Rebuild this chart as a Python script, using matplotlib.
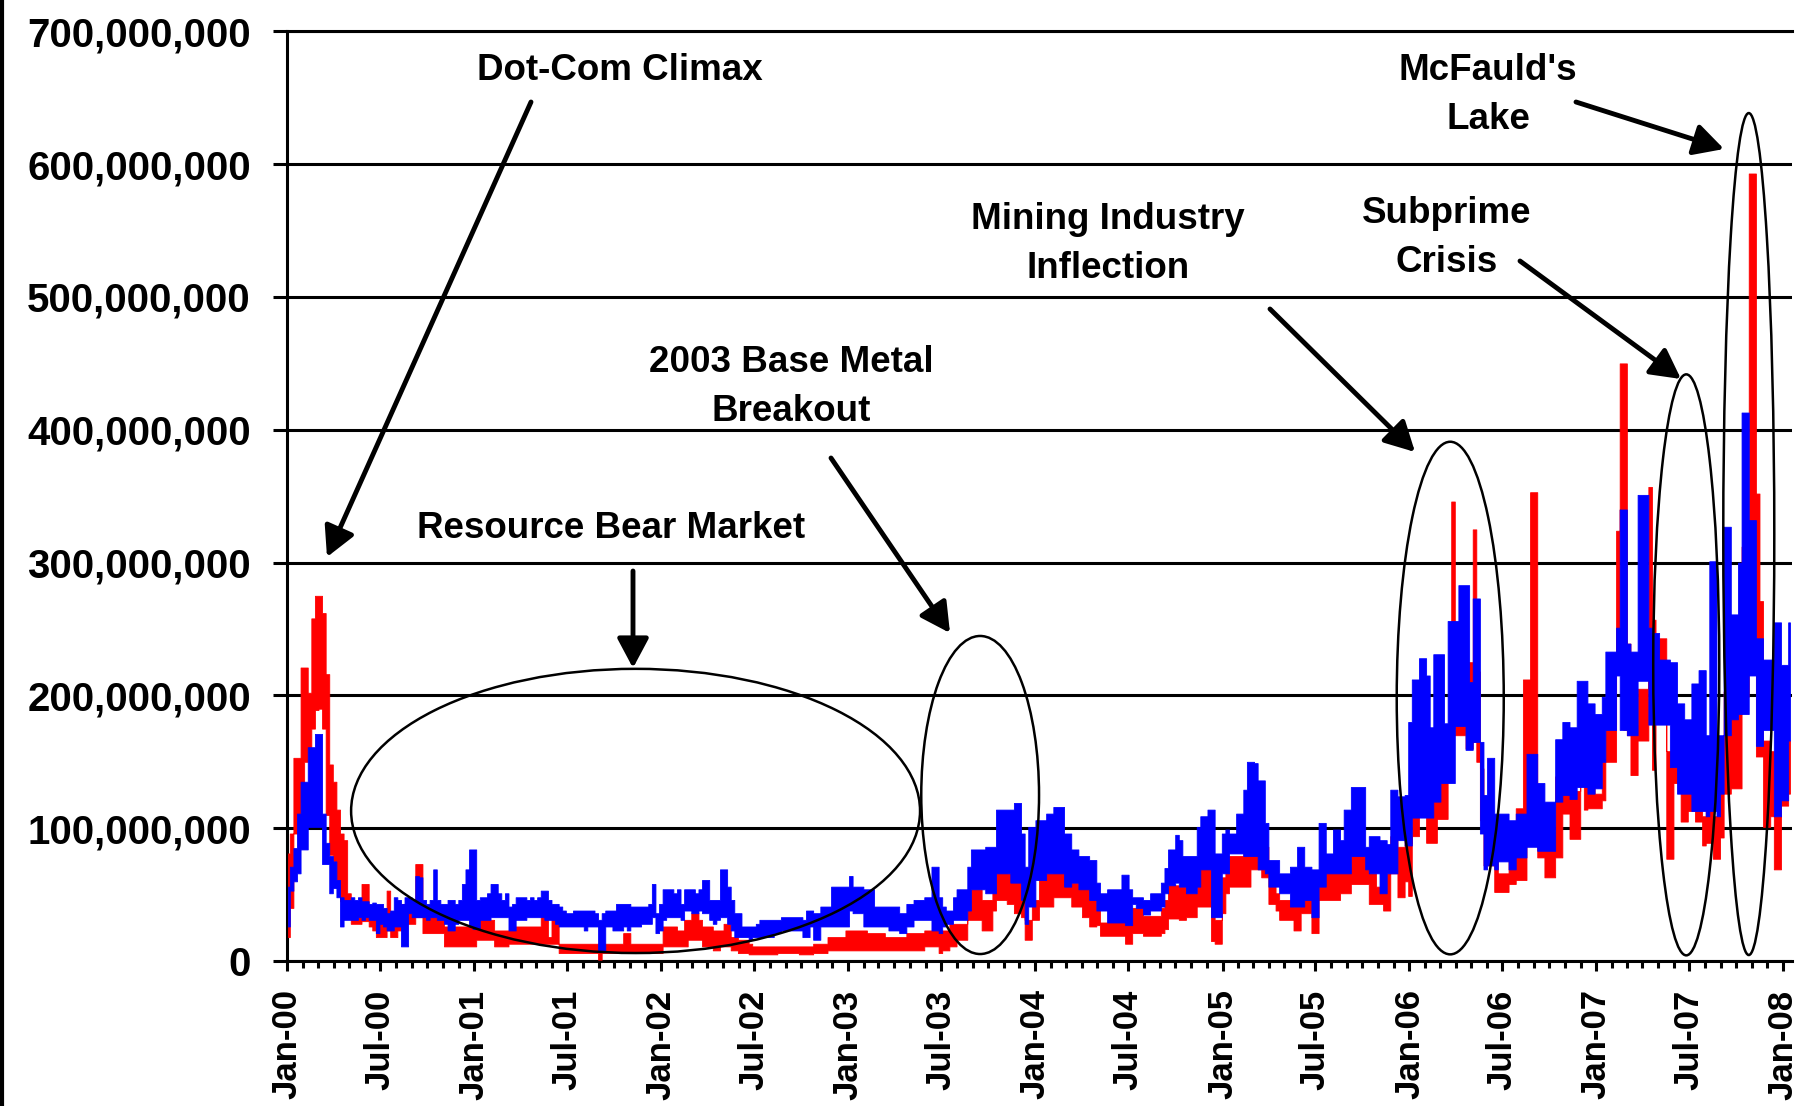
import matplotlib
matplotlib.use("Agg")
import matplotlib.pyplot as plt
import matplotlib.dates as mdates
from matplotlib.patches import Ellipse
from matplotlib.lines import Line2D
from matplotlib.ticker import FuncFormatter
import pandas as pd

plt.rcParams['font.family'] = ['Liberation Sans', 'DejaVu Sans']
plt.rcParams['font.weight'] = 'bold'

# weekly series, values in millions (upper / lower envelope of each week)
first_week = '2000-01-03'

blue_hi = [
    56, 71, 85, 111, 135, 135, 161, 161, 171, 171,
    111, 89, 79, 75, 61, 48, 46, 46, 48, 46,
    48, 45, 45, 43, 44, 43, 43, 40, 36, 38,
    48, 46, 43, 48, 48, 46, 64, 63, 46, 43,
    46, 69, 46, 43, 43, 46, 46, 43, 46, 58,
    69, 84, 84, 46, 48, 48, 51, 58, 58, 51,
    46, 51, 41, 43, 48, 48, 48, 46, 48, 46,
    48, 53, 53, 46, 43, 43, 41, 38, 36, 36,
    38, 38, 38, 38, 38, 38, 36, 31, 36, 38,
    38, 38, 43, 43, 43, 43, 41, 41, 41, 41,
    41, 43, 58, 36, 43, 54, 54, 54, 51, 54,
    43, 54, 54, 54, 51, 54, 61, 61, 46, 46,
    46, 69, 69, 56, 46, 36, 36, 26, 26, 26,
    26, 28, 31, 31, 31, 31, 31, 31, 33, 33,
    33, 33, 33, 33, 31, 38, 38, 36, 36, 41,
    41, 41, 56, 56, 56, 56, 56, 64, 56, 56,
    56, 54, 54, 54, 41, 41, 41, 41, 41, 41,
    41, 36, 36, 43, 43, 46, 46, 46, 48, 48,
    71, 71, 48, 41, 38, 38, 48, 54, 54, 54,
    71, 84, 84, 84, 84, 86, 86, 86, 114, 114,
    114, 114, 114, 119, 119, 96, 71, 101, 101, 106,
    106, 106, 111, 111, 116, 116, 116, 96, 96, 84,
    84, 79, 79, 79, 76, 76, 59, 51, 51, 54,
    54, 54, 54, 65, 65, 54, 48, 48, 48, 46,
    46, 51, 51, 51, 59, 70, 84, 84, 95, 91,
    79, 79, 79, 79, 101, 109, 109, 114, 114, 81,
    81, 96, 99, 96, 96, 111, 111, 129, 150, 150,
    149, 136, 136, 104, 76, 76, 76, 66, 66, 66,
    71, 71, 86, 86, 71, 71, 69, 69, 104, 104,
    81, 81, 99, 99, 91, 114, 114, 131, 131, 131,
    131, 86, 94, 94, 94, 91, 91, 88, 129, 129,
    124, 124, 125, 180, 212, 212, 228, 228, 215, 176,
    231, 231, 231, 179, 256, 256, 256, 283, 283, 283,
    210, 273, 273, 165, 125, 153, 153, 111, 111, 111,
    111, 106, 106, 111, 111, 111, 156, 156, 156, 134,
    134, 120, 120, 120, 167, 167, 180, 180, 176, 176,
    211, 211, 211, 194, 194, 186, 186, 199, 233, 233,
    233, 251, 340, 340, 239, 233, 233, 351, 351, 351,
    251, 247, 247, 227, 227, 227, 225, 225, 194, 194,
    182, 182, 209, 209, 219, 219, 170, 301, 301, 170,
    170, 327, 327, 261, 261, 300, 413, 413, 332, 332,
    243, 243, 227, 227, 227, 255, 255, 223, 223, 255,
]

blue_lo = [
    26, 53, 60, 66, 84, 84, 101, 101, 101, 101,
    73, 73, 51, 55, 48, 26, 31, 31, 31, 31,
    33, 31, 33, 31, 31, 21, 28, 26, 23, 23,
    26, 26, 11, 11, 36, 33, 33, 33, 33, 31,
    33, 33, 31, 31, 28, 23, 23, 28, 31, 31,
    31, 26, 24, 24, 31, 31, 31, 33, 33, 33,
    33, 33, 23, 23, 31, 31, 31, 33, 33, 33,
    33, 33, 31, 31, 31, 28, 26, 26, 26, 26,
    26, 26, 26, 23, 26, 26, 26, 8, 8, 26,
    26, 23, 23, 23, 26, 23, 26, 26, 26, 28,
    28, 28, 33, 21, 23, 31, 33, 33, 33, 33,
    31, 38, 38, 36, 36, 38, 36, 36, 31, 28,
    31, 33, 33, 28, 23, 18, 18, 18, 18, 16,
    18, 18, 18, 18, 18, 18, 21, 21, 23, 23,
    23, 23, 23, 23, 18, 18, 26, 16, 16, 26,
    26, 26, 26, 26, 26, 26, 26, 38, 36, 36,
    36, 26, 26, 26, 26, 26, 26, 26, 23, 23,
    23, 21, 21, 26, 26, 31, 31, 31, 31, 31,
    23, 23, 21, 26, 28, 28, 31, 31, 31, 31,
    38, 54, 54, 54, 54, 51, 51, 51, 66, 66,
    66, 66, 59, 59, 59, 46, 28, 41, 41, 61,
    61, 61, 66, 66, 66, 66, 66, 56, 56, 59,
    59, 54, 54, 54, 46, 46, 38, 38, 38, 29,
    29, 29, 29, 29, 27, 27, 43, 40, 40, 35,
    35, 38, 38, 38, 41, 51, 57, 57, 59, 56,
    56, 51, 51, 51, 56, 69, 69, 69, 33, 33,
    33, 66, 66, 81, 81, 81, 81, 79, 79, 79,
    79, 69, 69, 66, 56, 56, 56, 51, 51, 51,
    41, 41, 41, 41, 46, 46, 33, 33, 56, 56,
    66, 66, 66, 66, 66, 66, 66, 79, 79, 79,
    79, 69, 66, 66, 66, 51, 51, 66, 66, 66,
    91, 91, 87, 87, 108, 108, 108, 108, 108, 108,
    120, 120, 134, 134, 134, 134, 177, 177, 177, 159,
    159, 165, 165, 96, 69, 72, 72, 69, 75, 75,
    75, 69, 69, 78, 78, 78, 86, 86, 86, 83,
    83, 83, 83, 83, 120, 120, 125, 125, 122, 122,
    131, 131, 131, 126, 126, 130, 130, 150, 174, 174,
    174, 215, 174, 174, 170, 170, 170, 211, 211, 211,
    178, 178, 178, 178, 178, 178, 146, 146, 126, 126,
    126, 126, 113, 113, 113, 113, 109, 113, 113, 109,
    126, 170, 170, 182, 182, 186, 186, 186, 215, 215,
    162, 162, 174, 174, 174, 109, 109, 121, 121, 166,
]

red_hi = [
    81, 96, 153, 153, 221, 221, 202, 258, 275, 275,
    262, 216, 148, 135, 114, 96, 91, 51, 41, 41,
    41, 58, 58, 41, 36, 36, 36, 36, 53, 31,
    31, 43, 43, 38, 38, 38, 73, 73, 36, 36,
    36, 36, 33, 33, 26, 26, 26, 26, 26, 26,
    26, 26, 26, 26, 31, 31, 31, 31, 23, 23,
    23, 23, 23, 26, 26, 26, 26, 26, 26, 26,
    26, 38, 38, 18, 41, 41, 13, 13, 13, 13,
    13, 13, 13, 13, 13, 13, 13, 13, 13, 13,
    13, 13, 13, 13, 21, 21, 13, 13, 13, 13,
    13, 13, 13, 13, 13, 26, 26, 26, 26, 23,
    23, 31, 31, 36, 36, 31, 26, 26, 26, 23,
    23, 23, 28, 28, 18, 18, 16, 16, 16, 13,
    11, 11, 11, 11, 11, 11, 11, 11, 11, 11,
    11, 11, 11, 11, 11, 11, 11, 13, 13, 13,
    13, 18, 18, 18, 18, 18, 23, 23, 23, 23,
    23, 23, 21, 21, 21, 21, 21, 18, 18, 18,
    18, 18, 18, 21, 21, 21, 21, 21, 23, 23,
    23, 23, 23, 23, 23, 28, 28, 28, 28, 28,
    46, 54, 54, 54, 46, 46, 46, 56, 76, 76,
    76, 66, 66, 66, 66, 51, 31, 31, 46, 46,
    74, 66, 66, 66, 76, 76, 76, 74, 74, 59,
    59, 59, 56, 56, 46, 46, 38, 29, 29, 29,
    29, 29, 29, 34, 34, 34, 40, 40, 40, 34,
    34, 34, 34, 34, 40, 46, 57, 57, 57, 56,
    56, 51, 51, 51, 71, 71, 71, 71, 38, 31,
    31, 63, 79, 79, 79, 79, 79, 81, 81, 99,
    99, 99, 86, 86, 69, 69, 51, 46, 46, 46,
    46, 41, 41, 58, 58, 58, 48, 48, 66, 66,
    69, 69, 69, 69, 71, 71, 71, 86, 86, 86,
    79, 79, 66, 66, 56, 56, 66, 66, 94, 94,
    86, 86, 100, 89, 156, 156, 159, 159, 122, 141,
    141, 142, 142, 142, 166, 346, 254, 180, 180, 225,
    225, 325, 218, 145, 115, 115, 110, 80, 66, 66,
    66, 80, 80, 115, 115, 212, 212, 353, 353, 114,
    114, 97, 97, 97, 139, 139, 131, 131, 128, 128,
    128, 176, 151, 134, 134, 126, 126, 152, 178, 178,
    178, 324, 450, 450, 239, 178, 178, 205, 205, 205,
    357, 257, 243, 243, 243, 158, 158, 158, 158, 154,
    154, 142, 142, 117, 117, 109, 126, 126, 109, 109,
    128, 203, 203, 186, 186, 186, 312, 312, 593, 593,
    352, 271, 166, 166, 158, 109, 109, 166, 166, 166,
]

red_lo = [
    18, 40, 96, 96, 120, 150, 160, 175, 189, 190,
    175, 110, 80, 75, 55, 45, 40, 33, 28, 28,
    28, 30, 30, 26, 23, 18, 18, 18, 23, 18,
    18, 23, 23, 28, 28, 28, 33, 33, 21, 21,
    21, 21, 21, 21, 11, 11, 11, 11, 11, 11,
    11, 11, 11, 16, 16, 16, 16, 16, 11, 11,
    11, 11, 13, 13, 13, 13, 13, 13, 13, 13,
    13, 13, 13, 13, 13, 13, 6, 6, 6, 6,
    6, 6, 6, 6, 6, 6, 6, 1, 6, 6,
    6, 6, 6, 6, 6, 6, 6, 6, 6, 6,
    6, 6, 6, 6, 6, 11, 11, 11, 11, 11,
    11, 11, 16, 16, 16, 16, 11, 11, 11, 8,
    8, 11, 11, 11, 8, 8, 6, 6, 6, 5,
    5, 5, 5, 5, 5, 5, 5, 6, 6, 6,
    6, 6, 6, 5, 5, 5, 5, 6, 6, 6,
    6, 8, 8, 8, 8, 8, 8, 8, 8, 8,
    8, 8, 8, 8, 8, 8, 8, 8, 8, 8,
    8, 8, 8, 8, 8, 8, 8, 8, 11, 11,
    11, 11, 6, 8, 8, 11, 11, 16, 16, 16,
    31, 31, 31, 31, 23, 23, 23, 38, 46, 46,
    46, 43, 43, 36, 36, 33, 16, 16, 31, 31,
    41, 41, 41, 41, 48, 48, 48, 48, 48, 41,
    41, 41, 33, 33, 26, 26, 27, 19, 19, 19,
    19, 19, 19, 19, 13, 13, 21, 21, 21, 19,
    19, 19, 19, 19, 21, 24, 32, 32, 32, 31,
    31, 33, 33, 33, 41, 41, 41, 41, 15, 13,
    13, 36, 51, 56, 56, 56, 56, 56, 56, 69,
    69, 69, 63, 63, 43, 43, 38, 31, 31, 31,
    31, 23, 23, 36, 36, 36, 21, 21, 46, 46,
    46, 46, 46, 46, 51, 51, 51, 58, 58, 58,
    58, 58, 43, 43, 43, 43, 38, 38, 66, 66,
    48, 48, 60, 49, 94, 94, 118, 118, 89, 89,
    89, 107, 107, 107, 135, 175, 170, 170, 170, 160,
    160, 165, 150, 106, 72, 72, 72, 52, 52, 52,
    52, 58, 58, 61, 61, 61, 90, 114, 114, 78,
    78, 63, 63, 63, 78, 78, 111, 111, 92, 92,
    92, 134, 114, 115, 115, 115, 115, 121, 150, 150,
    150, 250, 340, 174, 170, 140, 140, 166, 166, 166,
    250, 144, 186, 186, 186, 77, 77, 134, 134, 105,
    105, 113, 113, 105, 105, 87, 89, 89, 77, 77,
    93, 126, 126, 130, 130, 130, 199, 199, 271, 271,
    154, 154, 101, 101, 109, 69, 69, 117, 117, 126,
]

y_ticks = [0, 100, 200, 300, 400, 500, 600, 700]

notes = ["Dot-Com Climax", "Resource Bear Market", "2003 Base Metal\nBreakout",
         "Mining Industry\nInflection", "Subprime\nCrisis", "McFauld's\nLake"]

n = min(len(blue_hi), len(blue_lo), len(red_hi), len(red_lo))
dates = pd.date_range(first_week, periods=n, freq='7D')

W, H = 1810, 1106
fig = plt.figure(figsize=(W / 100, H / 100), dpi=100)
ax = fig.add_axes([287 / W, 1 - 961 / H, (1792 - 287) / W, (961 - 31.4) / H])

ax.fill_between(dates, red_lo[:n], red_hi[:n], step='mid', color='#ff0000', lw=0.6,
                edgecolor='#ff0000', zorder=3)
ax.fill_between(dates, blue_lo[:n], blue_hi[:n], step='mid', color='#0000ff', lw=0.6,
                edgecolor='#0000ff', zorder=4)

x0 = pd.Timestamp('2000-01-01')
ax.set_xlim(x0, pd.Timestamp('2008-01-18'))
ax.set_ylim(0, 700)

ax.set_yticks(y_ticks)
ax.yaxis.set_major_formatter(FuncFormatter(lambda v, p: f"{int(round(v * 1e6)):,}"))
ax.yaxis.grid(True, color='black', lw=2.2)
ax.set_axisbelow(True)

ax.xaxis.set_major_locator(mdates.MonthLocator(bymonth=(1, 7)))
ax.xaxis.set_minor_locator(mdates.MonthLocator())
ax.xaxis.set_major_formatter(mdates.DateFormatter('%b-%y'))

ax.tick_params(axis='y', length=10, width=2.2, pad=16, labelsize=29, direction='out')
ax.tick_params(axis='x', which='major', length=7.5, width=2.2, pad=13, labelsize=25,
               labelrotation=90, direction='out')
ax.tick_params(axis='x', which='minor', length=5, width=2.2, direction='out')
for lbl in ax.get_xticklabels() + ax.get_yticklabels():
    lbl.set_fontweight('bold')

ax.spines['right'].set_visible(False)
for s in ['left', 'bottom', 'top']:
    ax.spines[s].set_linewidth(2.2)
    ax.spines[s].set_color('black')

# ellipses (centre day offset, width days, centre value, height value)
base = mdates.date2num(x0)
ellipses = [(680.7, 1111, 113, 214), (1353.6, 230, 125, 239.5),
            (2271.6, 209, 198, 386), (2732.5, 129, 223, 437.5),
            (2854.6, 99.6, 321.5, 634)]
for cx, w, cy, h in ellipses:
    ax.add_patch(Ellipse((base + cx, cy), w, h, fill=False, edgecolor='black',
                         lw=1.8, zorder=6, clip_on=False))

# annotation texts (figure pixel positions from the top-left)
text_pos = [(620, 70), (611, 528), (791, 387), (1108, 244), (1447, 238), (1488, 95)]
for t, (px, py) in zip(notes, text_pos):
    fig.text(px / W, 1 - py / H, t, ha='center', va='center', fontsize=26.5,
             fontweight='bold', linespacing=1.5, multialignment='center')

arrows = [((531, 102), (327, 557)), ((633, 571), (633, 668)),
          ((831, 458), (950, 633)), ((1270, 309), (1415, 452)),
          ((1520, 261), (1681, 379)), ((1576, 102), (1724, 149))]
for (sx, sy), (ex, ey) in arrows:
    fig.add_artist(matplotlib.text.Annotation(
        '', xy=(ex, H - ey), xytext=(sx, H - sy), xycoords='figure pixels',
        textcoords='figure pixels',
        arrowprops=dict(arrowstyle='-|>,head_length=0.6,head_width=0.32', lw=3.5,
                        color='black', mutation_scale=30, shrinkA=0, shrinkB=0)))

fig.add_artist(Line2D([2 / W, 2 / W], [0, 1], color='black', lw=3))

fig.savefig('out.png', dpi=100, facecolor='white')
